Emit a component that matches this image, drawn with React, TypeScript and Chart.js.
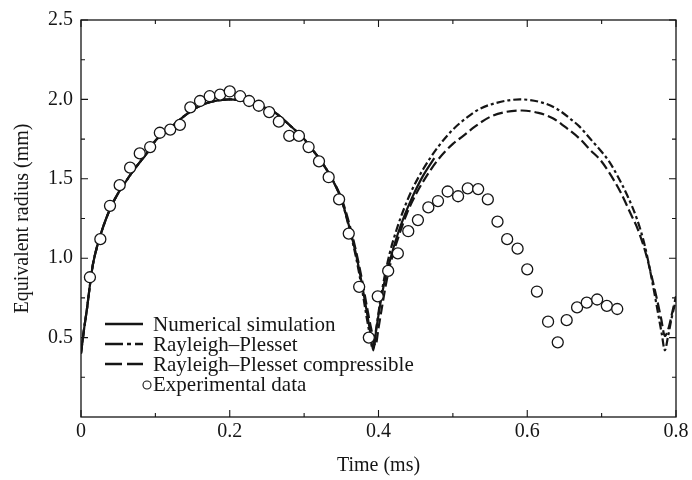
import React, { useEffect, useRef } from "react";
import { Chart, registerables } from "chart.js";

Chart.register(...registerables);

// ---- Data (time in ms, equivalent radius in mm) ----
const simT = [0, 0.004, 0.008, 0.012, 0.016, 0.022, 0.03, 0.04, 0.05, 0.06, 0.07, 0.08, 0.09, 0.1, 0.12, 0.14, 0.16, 0.18, 0.2, 0.22, 0.24, 0.26, 0.28, 0.3, 0.31, 0.32, 0.335, 0.35, 0.36, 0.37, 0.378, 0.384, 0.389, 0.393, 0.397, 0.402, 0.408, 0.415, 0.425, 0.435, 0.445, 0.46, 0.475];
const simR = [0.40, 0.55, 0.68, 0.83, 0.96, 1.08, 1.20, 1.32, 1.41, 1.48, 1.55, 1.61, 1.67, 1.74, 1.82, 1.90, 1.96, 1.99, 2.00, 1.99, 1.96, 1.92, 1.84, 1.75, 1.69, 1.63, 1.52, 1.37, 1.21, 1.02, 0.83, 0.67, 0.53, 0.42, 0.55, 0.70, 0.85, 0.98, 1.14, 1.27, 1.38, 1.52, 1.63];

const rpT = [0, 0.004, 0.008, 0.012, 0.016, 0.022, 0.03, 0.04, 0.05, 0.06, 0.07, 0.08, 0.09, 0.1, 0.12, 0.14, 0.16, 0.18, 0.2, 0.22, 0.24, 0.26, 0.28, 0.3, 0.31, 0.32, 0.335, 0.35, 0.36, 0.37, 0.378, 0.384, 0.389, 0.392, 0.397, 0.402, 0.408, 0.415, 0.425, 0.435, 0.445, 0.46, 0.48, 0.5, 0.52, 0.536, 0.56, 0.59, 0.62, 0.64, 0.66, 0.67, 0.685, 0.7, 0.71, 0.72, 0.735, 0.748, 0.758, 0.769, 0.776, 0.781, 0.785, 0.789, 0.794, 0.8];
const rpR = [0.40, 0.55, 0.68, 0.83, 0.96, 1.08, 1.20, 1.32, 1.41, 1.48, 1.55, 1.61, 1.67, 1.74, 1.82, 1.90, 1.96, 1.99, 2.00, 1.99, 1.96, 1.92, 1.84, 1.75, 1.69, 1.63, 1.52, 1.37, 1.20, 1.00, 0.80, 0.63, 0.50, 0.43, 0.56, 0.72, 0.88, 1.03, 1.19, 1.32, 1.43, 1.56, 1.70, 1.81, 1.89, 1.94, 1.98, 2.00, 1.98, 1.94, 1.87, 1.83, 1.75, 1.67, 1.61, 1.53, 1.39, 1.24, 1.08, 0.83, 0.65, 0.52, 0.42, 0.50, 0.62, 0.74];

const rpcT = [0, 0.004, 0.008, 0.012, 0.016, 0.022, 0.03, 0.04, 0.05, 0.06, 0.07, 0.08, 0.09, 0.1, 0.12, 0.14, 0.16, 0.18, 0.2, 0.22, 0.24, 0.26, 0.28, 0.3, 0.31, 0.32, 0.335, 0.35, 0.36, 0.37, 0.378, 0.385, 0.39, 0.396, 0.4, 0.405, 0.411, 0.418, 0.428, 0.438, 0.45, 0.465, 0.48, 0.5, 0.514, 0.53, 0.55, 0.57, 0.593, 0.615, 0.635, 0.65, 0.671, 0.685, 0.698, 0.71, 0.725, 0.74, 0.748, 0.76, 0.774, 0.78, 0.785, 0.79, 0.795, 0.8];
const rpcR = [0.40, 0.55, 0.68, 0.83, 0.96, 1.08, 1.20, 1.32, 1.41, 1.48, 1.55, 1.61, 1.67, 1.74, 1.82, 1.90, 1.96, 1.99, 2.00, 1.99, 1.96, 1.92, 1.84, 1.75, 1.69, 1.63, 1.52, 1.38, 1.23, 1.04, 0.86, 0.68, 0.56, 0.45, 0.56, 0.70, 0.86, 1.00, 1.15, 1.28, 1.40, 1.52, 1.62, 1.72, 1.77, 1.83, 1.89, 1.92, 1.93, 1.915, 1.88, 1.83, 1.75, 1.68, 1.62, 1.54, 1.42, 1.27, 1.19, 1.02, 0.75, 0.62, 0.51, 0.56, 0.66, 0.76];

const expT = [0.012, 0.026, 0.039, 0.052, 0.066, 0.079, 0.093, 0.106, 0.12, 0.133, 0.147, 0.16, 0.173, 0.187, 0.2, 0.214, 0.226, 0.239, 0.253, 0.266, 0.28, 0.293, 0.306, 0.32, 0.333, 0.347, 0.36, 0.374, 0.387, 0.399, 0.413, 0.426, 0.44, 0.453, 0.467, 0.48, 0.493, 0.507, 0.52, 0.534, 0.547, 0.56, 0.573, 0.587, 0.6, 0.613, 0.628, 0.641, 0.653, 0.667, 0.68, 0.694, 0.707, 0.721];
const expR = [0.88, 1.12, 1.33, 1.46, 1.57, 1.66, 1.70, 1.79, 1.81, 1.84, 1.95, 1.99, 2.02, 2.03, 2.05, 2.02, 1.99, 1.96, 1.92, 1.86, 1.77, 1.77, 1.70, 1.61, 1.51, 1.37, 1.155, 0.82, 0.50, 0.76, 0.92, 1.03, 1.17, 1.24, 1.32, 1.36, 1.42, 1.39, 1.44, 1.435, 1.37, 1.23, 1.12, 1.06, 0.93, 0.79, 0.60, 0.47, 0.61, 0.69, 0.72, 0.74, 0.70, 0.68];

const seriesNames = ["Numerical simulation", "Rayleigh\u2013Plesset", "Rayleigh\u2013Plesset compressible", "Experimental data"];

const xMajorTicks = [0, 0.2, 0.4, 0.6, 0.8];
const xMinorTicks = [0.1, 0.3, 0.5, 0.7];
const xTickLabels = ["0", "0.2", "0.4", "0.6", "0.8"];
const yMajorTicks = [0.5, 1.0, 1.5, 2.0, 2.5];
const yMinorTicks = [0.25, 0.75, 1.25, 1.75, 2.25];
const yTickLabels = ["0.5", "1.0", "1.5", "2.0", "2.5"];

const xTitle = "Time (ms)";
const yTitle = "Equivalent radius (mm)";

const FONT = "'Liberation Serif', 'Times New Roman', serif";
const INK = "#151515";

const toXY = (t: number[], r: number[]) => t.map((v, i) => ({ x: v, y: r[i] }));

const lookup = (vals: number[], labels: string[], v: number) => {
  const i = vals.findIndex((m) => Math.abs(m - v) < 1e-6);
  return i >= 0 ? labels[i] : null;
};

const legendDash: number[][] = [[], [18, 4, 4, 4, 8], [17, 5, 16], []];

const framePlugin = {
  id: "frameTicks",
  afterDatasetsDraw(chart: any) {
    const { ctx, chartArea: a, scales } = chart;
    const xs = scales.x;
    const ys = scales.y;
    ctx.save();
    ctx.strokeStyle = INK;
    ctx.lineWidth = 1.3;
    ctx.setLineDash([]);
    ctx.strokeRect(a.left, a.top, a.right - a.left, a.bottom - a.top);
    ctx.lineWidth = 1.1;
    const drawX = (vals: number[], len: number) => {
      vals.forEach((v) => {
        const px = xs.getPixelForValue(v);
        ctx.beginPath();
        ctx.moveTo(px, a.bottom);
        ctx.lineTo(px, a.bottom - len);
        ctx.moveTo(px, a.top);
        ctx.lineTo(px, a.top + len);
        ctx.stroke();
      });
    };
    const drawY = (vals: number[], len: number) => {
      vals.forEach((v) => {
        const py = ys.getPixelForValue(v);
        ctx.beginPath();
        ctx.moveTo(a.left, py);
        ctx.lineTo(a.left + len, py);
        ctx.moveTo(a.right, py);
        ctx.lineTo(a.right - len, py);
        ctx.stroke();
      });
    };
    drawX(xMajorTicks, 7);
    drawX(xMinorTicks, 4);
    drawY(yMajorTicks, 7);
    drawY(yMinorTicks, 4);
    ctx.restore();
  },
  afterDraw(chart: any) {
    const { ctx } = chart;
    const x0 = 105;
    const x1 = 143;
    const textX = 153;
    const rows = [324, 344, 364, 384];
    ctx.save();
    ctx.font = `21px ${FONT}`;
    ctx.fillStyle = INK;
    ctx.textBaseline = "middle";
    ctx.textAlign = "left";
    chart.data.datasets.forEach((ds: any, i: number) => {
      const y = rows[i];
      ctx.strokeStyle = INK;
      if (ds.showLine === false) {
        ctx.setLineDash([]);
        ctx.lineWidth = 1.1;
        ctx.beginPath();
        ctx.arc(147, y + 1, 4, 0, Math.PI * 2);
        ctx.fillStyle = "#fff";
        ctx.fill();
        ctx.stroke();
        ctx.fillStyle = INK;
      } else {
        ctx.lineWidth = 2.4;
        ctx.setLineDash(legendDash[i]);
        ctx.beginPath();
        ctx.moveTo(x0, y);
        ctx.lineTo(x1, y);
        ctx.stroke();
      }
      ctx.setLineDash([]);
      ctx.fillText(ds.label, textX, y + 1);
    });
    ctx.restore();
  },
};

export default function App() {
  const ref = useRef<HTMLCanvasElement | null>(null);

  useEffect(() => {
    if (!ref.current) return;
    const lineBase = {
      pointRadius: 0,
      pointHoverRadius: 0,
      borderColor: INK,
      backgroundColor: INK,
      fill: false,
      cubicInterpolationMode: "monotone" as const,
      borderCapStyle: "butt" as const,
    };
    const chart = new Chart(ref.current, {
      type: "line",
      data: {
        datasets: [
          { ...lineBase, label: seriesNames[0], data: toXY(simT, simR), borderWidth: 2.2, order: 3 },
          { ...lineBase, label: seriesNames[1], data: toXY(rpT, rpR), borderWidth: 2.2, borderDash: [8, 3, 3, 3], order: 2 },
          { ...lineBase, label: seriesNames[2], data: toXY(rpcT, rpcR), borderWidth: 2.2, borderDash: [10, 4], order: 1 },
          {
            label: seriesNames[3],
            data: toXY(expT, expR),
            showLine: false,
            pointRadius: 5.5,
            pointHoverRadius: 5.5,
            pointBackgroundColor: "#ffffff",
            pointBorderColor: INK,
            pointBorderWidth: 1.3,
            borderColor: INK,
            order: 0,
          },
        ],
      },
      options: {
        animation: false,
        responsive: false,
        maintainAspectRatio: false,
        layout: { padding: { top: 16, right: 16, left: 0, bottom: 0 } },
        plugins: { legend: { display: false }, tooltip: { enabled: false } },
        events: [],
        scales: {
          x: {
            type: "linear",
            min: 0,
            max: 0.8,
            grid: { display: false, drawTicks: false },
            border: { display: false },
            afterFit: (s: any) => {
              s.height = 63;
            },
            ticks: {
              stepSize: 0.1,
              autoSkip: false,
              maxRotation: 0,
              padding: 3,
              color: INK,
              font: { family: FONT, size: 20 },
              callback: (v: any) => lookup(xMajorTicks, xTickLabels, Number(v)),
            },
            title: {
              display: true,
              text: xTitle,
              color: INK,
              font: { family: FONT, size: 20 },
              padding: { top: 0, bottom: 2 },
            },
          },
          y: {
            type: "linear",
            min: 0,
            max: 2.5,
            grid: { display: false, drawTicks: false },
            border: { display: false },
            afterFit: (s: any) => {
              s.width = 81;
            },
            ticks: {
              stepSize: 0.25,
              autoSkip: false,
              padding: 8,
              color: INK,
              font: { family: FONT, size: 20 },
              callback: (v: any) => lookup(yMajorTicks, yTickLabels, Number(v)),
            },
            title: {
              display: true,
              text: yTitle,
              color: INK,
              font: { family: FONT, size: 20 },
              padding: { top: 11, bottom: 0 },
            },
          },
        },
      },
      plugins: [framePlugin],
    });
    return () => chart.destroy();
  }, []);

  return (
    <div style={{ position: "fixed", left: 0, top: 0, width: 692, height: 480, background: "#fff" }}>
      <canvas ref={ref} width={692} height={480} style={{ display: "block", width: 692, height: 480 }} />
    </div>
  );
}
